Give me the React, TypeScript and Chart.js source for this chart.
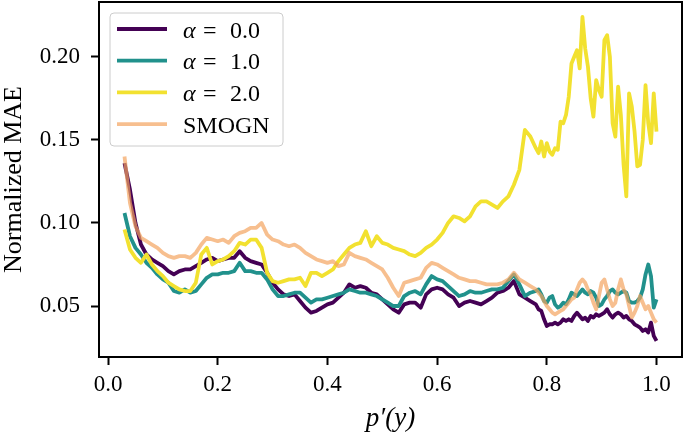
import React, { useEffect, useRef } from 'react';
import { Chart, registerables } from 'chart.js';

Chart.register(...registerables);

// x positions p'(y)
const xs = [
  0.03, 0.04, 0.05, 0.06, 0.07, 0.08, 0.09, 0.10, 0.11, 0.12,
  0.13, 0.14, 0.15, 0.16, 0.17, 0.18, 0.19, 0.20, 0.21, 0.22,
  0.23, 0.24, 0.25, 0.26, 0.27, 0.28, 0.29, 0.30, 0.31, 0.32,
  0.33, 0.34, 0.35, 0.36, 0.37, 0.38, 0.39, 0.40, 0.41, 0.42,
  0.43, 0.44, 0.45, 0.46, 0.47, 0.48, 0.49, 0.50, 0.51, 0.52,
  0.53, 0.54, 0.55, 0.56, 0.57, 0.58, 0.59, 0.60, 0.61, 0.62,
  0.63, 0.64, 0.65, 0.66, 0.67, 0.68, 0.69, 0.70, 0.71, 0.72,
  0.73, 0.74, 0.75, 0.76, 0.77, 0.78,
  0.785, 0.79, 0.795, 0.80, 0.805, 0.81, 0.815, 0.82, 0.825, 0.83,
  0.835, 0.84, 0.845, 0.85, 0.855, 0.86, 0.865, 0.87, 0.875, 0.88,
  0.885, 0.89, 0.895, 0.90, 0.905, 0.91, 0.915, 0.92, 0.925, 0.93,
  0.935, 0.94, 0.945, 0.95, 0.955, 0.96, 0.965, 0.97, 0.975, 0.98,
  0.985, 0.99, 0.995, 1.00,
];

const alpha0 = [
  0.136, 0.12, 0.10, 0.087, 0.081, 0.078, 0.076, 0.074, 0.071, 0.069,
  0.071, 0.072, 0.072, 0.074, 0.076, 0.078, 0.079, 0.077, 0.078, 0.079,
  0.079, 0.083, 0.079, 0.077, 0.076, 0.075, 0.07, 0.064, 0.06, 0.057,
  0.056, 0.057, 0.053, 0.049, 0.046, 0.047, 0.049, 0.051, 0.052, 0.055,
  0.058, 0.063, 0.061, 0.062, 0.061, 0.058, 0.057, 0.054, 0.051, 0.048,
  0.046, 0.051, 0.052, 0.052, 0.049, 0.057, 0.06, 0.061, 0.06, 0.057,
  0.055, 0.05, 0.052, 0.053, 0.052, 0.051, 0.053, 0.055, 0.058, 0.059,
  0.061, 0.065, 0.057, 0.055, 0.053, 0.051,
  0.048, 0.047, 0.042, 0.038, 0.039, 0.039, 0.040, 0.039, 0.040, 0.042,
  0.041, 0.042, 0.041, 0.044, 0.046, 0.044, 0.042, 0.043, 0.041, 0.044,
  0.043, 0.045, 0.044, 0.045, 0.046, 0.048, 0.045, 0.043, 0.045, 0.046,
  0.045, 0.043, 0.044, 0.042, 0.041, 0.039, 0.038, 0.037, 0.035, 0.036,
  0.034, 0.04, 0.032, 0.029,
];

const alpha1 = [
  0.106, 0.092, 0.085, 0.081, 0.076, 0.073, 0.069, 0.066, 0.064, 0.059,
  0.058, 0.06, 0.058, 0.059, 0.063, 0.067, 0.069, 0.069, 0.07, 0.07,
  0.071, 0.076, 0.071, 0.071, 0.07, 0.07, 0.066, 0.06, 0.056, 0.056,
  0.057, 0.058, 0.058, 0.055, 0.052, 0.054, 0.054, 0.055, 0.056, 0.057,
  0.058, 0.06, 0.059, 0.058, 0.058, 0.057, 0.056, 0.054, 0.052, 0.05,
  0.05, 0.056, 0.058, 0.059, 0.057, 0.063, 0.068, 0.066, 0.065, 0.062,
  0.059, 0.056, 0.057, 0.059, 0.058, 0.058, 0.059, 0.06, 0.06, 0.061,
  0.065, 0.069, 0.063, 0.056, 0.058, 0.059,
  0.06, 0.057, 0.053, 0.052, 0.055, 0.056, 0.051, 0.049, 0.05, 0.052,
  0.051, 0.054, 0.058, 0.057, 0.056, 0.058, 0.06, 0.058, 0.057, 0.059,
  0.058, 0.055, 0.05, 0.051, 0.054, 0.056, 0.059, 0.06, 0.058, 0.057,
  0.058, 0.059, 0.058, 0.053, 0.052, 0.052, 0.053, 0.055, 0.06, 0.069,
  0.075, 0.068, 0.049, 0.054,
];

const alpha2 = [
  0.096, 0.084, 0.079, 0.076, 0.081, 0.075, 0.071, 0.068, 0.064, 0.062,
  0.06, 0.059, 0.059, 0.064, 0.081, 0.085, 0.075, 0.077, 0.078, 0.08,
  0.083, 0.088, 0.087, 0.09, 0.09, 0.085, 0.07, 0.065, 0.064, 0.065,
  0.066, 0.066, 0.067, 0.062, 0.07, 0.07, 0.068, 0.07, 0.072, 0.077,
  0.081, 0.085, 0.087, 0.088, 0.095, 0.086, 0.092, 0.088, 0.087, 0.085,
  0.084, 0.083, 0.081, 0.08, 0.082, 0.085, 0.087, 0.09, 0.094, 0.1,
  0.104, 0.103, 0.101, 0.104, 0.11, 0.113, 0.113, 0.111, 0.109, 0.113,
  0.116, 0.123, 0.132, 0.156, 0.152, 0.145,
  0.142, 0.149, 0.14, 0.148, 0.143, 0.141, 0.145, 0.144, 0.161, 0.16,
  0.165, 0.176, 0.196, 0.2, 0.204, 0.193, 0.224, 0.205, 0.194, 0.175,
  0.164, 0.186, 0.18, 0.176, 0.21, 0.213, 0.2, 0.16, 0.152, 0.182,
  0.165, 0.135, 0.116, 0.178, 0.17, 0.155, 0.134, 0.135, 0.15, 0.183,
  0.16, 0.148, 0.178, 0.155,
];

const smogn = [
  0.140, 0.112, 0.098, 0.091, 0.089, 0.087, 0.085, 0.082, 0.08, 0.079,
  0.08, 0.08, 0.079, 0.082, 0.087, 0.091, 0.09, 0.089, 0.09, 0.088,
  0.092, 0.094, 0.095, 0.097, 0.097, 0.1, 0.093, 0.09, 0.089, 0.087,
  0.086, 0.087, 0.085, 0.082, 0.08, 0.078, 0.077, 0.076, 0.077, 0.074,
  0.075, 0.082, 0.08, 0.079, 0.078, 0.076, 0.074, 0.072, 0.067, 0.061,
  0.056, 0.064, 0.065, 0.066, 0.067, 0.073, 0.076, 0.075, 0.073, 0.071,
  0.069, 0.067, 0.066, 0.065, 0.065, 0.064, 0.063, 0.063, 0.063, 0.064,
  0.066, 0.07, 0.066, 0.064, 0.062, 0.06,
  0.058, 0.056, 0.053, 0.05, 0.048, 0.046, 0.045, 0.046, 0.047, 0.048,
  0.05, 0.052, 0.054, 0.055, 0.06, 0.064, 0.066, 0.064, 0.06, 0.057,
  0.052, 0.048, 0.056, 0.064, 0.066, 0.06, 0.054, 0.05, 0.052, 0.06,
  0.066, 0.06, 0.057, 0.05, 0.043, 0.046, 0.05, 0.056, 0.052, 0.048,
  0.05, 0.046, 0.042, 0.04,
];

const xTicks = [0.0, 0.2, 0.4, 0.6, 0.8, 1.0];
const yTicks = [0.05, 0.1, 0.15, 0.2];
const alphaValues = ['0.0', '1.0', '2.0'];
const smognLabel = 'SMOGN';

const FONT = "'Liberation Serif', 'Times New Roman', serif";

const frameAndLegend = {
  id: 'frameAndLegend',
  afterDraw(chart: any) {
    const { ctx, chartArea: a } = chart;
    ctx.save();
    ctx.strokeStyle = '#000';
    ctx.lineWidth = 2;
    ctx.strokeRect(a.left, a.top, a.right - a.left, a.bottom - a.top);

    const bx = a.left + 11;
    const by = a.top + 11;
    const bw = 173;
    const bh = 133;
    ctx.beginPath();
    ctx.roundRect(bx, by, bw, bh, 4);
    ctx.fillStyle = 'rgba(255,255,255,0.8)';
    ctx.fill();
    ctx.strokeStyle = '#cccccc';
    ctx.lineWidth = 1;
    ctx.stroke();

    const datasets = chart.data.datasets;
    datasets.forEach((ds: any, i: number) => {
      const y = by + 16 + i * 31.7;
      ctx.beginPath();
      ctx.moveTo(bx + 7, y);
      ctx.lineTo(bx + 57, y);
      ctx.strokeStyle = ds.borderColor;
      ctx.lineWidth = 3.8;
      ctx.lineCap = 'butt';
      ctx.stroke();

      const tx = bx + 73;
      const ty = y + 8.5;
      ctx.fillStyle = '#000';
      ctx.textBaseline = 'alphabetic';
      ctx.textAlign = 'left';
      if (i < alphaValues.length) {
        ctx.font = `italic 24px ${FONT}`;
        ctx.fillText('α', tx, ty);
        ctx.font = `24px ${FONT}`;
        ctx.fillText('=', tx + 20, ty);
        ctx.fillText(alphaValues[i], tx + 47, ty);
      } else {
        ctx.font = `24px ${FONT}`;
        ctx.fillText(smognLabel, tx, ty);
      }
    });
    ctx.restore();
  },
};

export default function App() {
  const ref = useRef<HTMLCanvasElement | null>(null);

  useEffect(() => {
    if (!ref.current) return;
    const mk = (arr: number[]) => xs.map((x, i) => ({ x, y: arr[i] }));
    const lw = 3.8;
    const chart = new Chart(ref.current, {
      type: 'line',
      data: {
        datasets: [
          { label: 'α = 0.0', data: mk(alpha0), borderColor: '#440154', borderWidth: lw, pointRadius: 0, order: 4, borderJoinStyle: 'round' },
          { label: 'α = 1.0', data: mk(alpha1), borderColor: '#21918c', borderWidth: lw, pointRadius: 0, order: 3, borderJoinStyle: 'round' },
          { label: 'α = 2.0', data: mk(alpha2), borderColor: '#f2e130', borderWidth: lw, pointRadius: 0, order: 2, borderJoinStyle: 'round' },
          { label: smognLabel, data: mk(smogn), borderColor: 'rgba(244,164,96,0.7)', borderWidth: lw, pointRadius: 0, order: 1, borderJoinStyle: 'round' },
        ],
      },
      options: {
        responsive: false,
        animation: false,
        events: [],
        layout: { padding: { top: 2, right: 3, left: 0, bottom: 0 } },
        plugins: { legend: { display: false }, tooltip: { enabled: false } },
        scales: {
          x: {
            type: 'linear',
            min: -0.0165,
            max: 1.0465,
            afterBuildTicks: (s: any) => { s.ticks = xTicks.map((v) => ({ value: v })); },
            afterFit: (s: any) => { s.height = 78; s.paddingLeft = 0; s.paddingRight = 0; },
            ticks: {
              callback: (v: any) => Number(v).toFixed(1),
              font: { family: FONT, size: 23 },
              color: '#000',
              padding: 6,
              maxRotation: 0,
              autoSkip: false,
            },
            grid: { display: true, drawOnChartArea: false, drawTicks: true, tickLength: 8, tickWidth: 2, tickColor: '#000' },
            border: { display: true, color: '#000', width: 2 },
            title: {
              display: true,
              text: 'p′(y)',
              font: { family: FONT, size: 27, style: 'italic', lineHeight: 1.2 },
              color: '#000',
              padding: 0,
            },
          },
          y: {
            type: 'linear',
            min: 0.0193,
            max: 0.233,
            afterBuildTicks: (s: any) => { s.ticks = yTicks.map((v) => ({ value: v })); },
            afterFit: (s: any) => { s.width = 99; s.paddingTop = 0; s.paddingBottom = 0; },
            ticks: {
              callback: (v: any) => Number(v).toFixed(2),
              font: { family: FONT, size: 23 },
              color: '#000',
              padding: 11,
              autoSkip: false,
            },
            grid: { display: true, drawOnChartArea: false, drawTicks: true, tickLength: 8, tickWidth: 2, tickColor: '#000' },
            border: { display: true, color: '#000', width: 2 },
            title: {
              display: true,
              text: 'Normalized MAE',
              font: { family: FONT, size: 26, lineHeight: 1.1 },
              color: '#000',
              padding: 0,
            },
          },
        },
      },
      plugins: [frameAndLegend],
    } as any);
    return () => chart.destroy();
  }, []);

  return (
    <div style={{ position: 'absolute', left: 0, top: 0, width: 685, height: 435, background: '#fff' }}>
      <canvas ref={ref} width={685} height={435} style={{ display: 'block', width: 685, height: 435 }} />
    </div>
  );
}
